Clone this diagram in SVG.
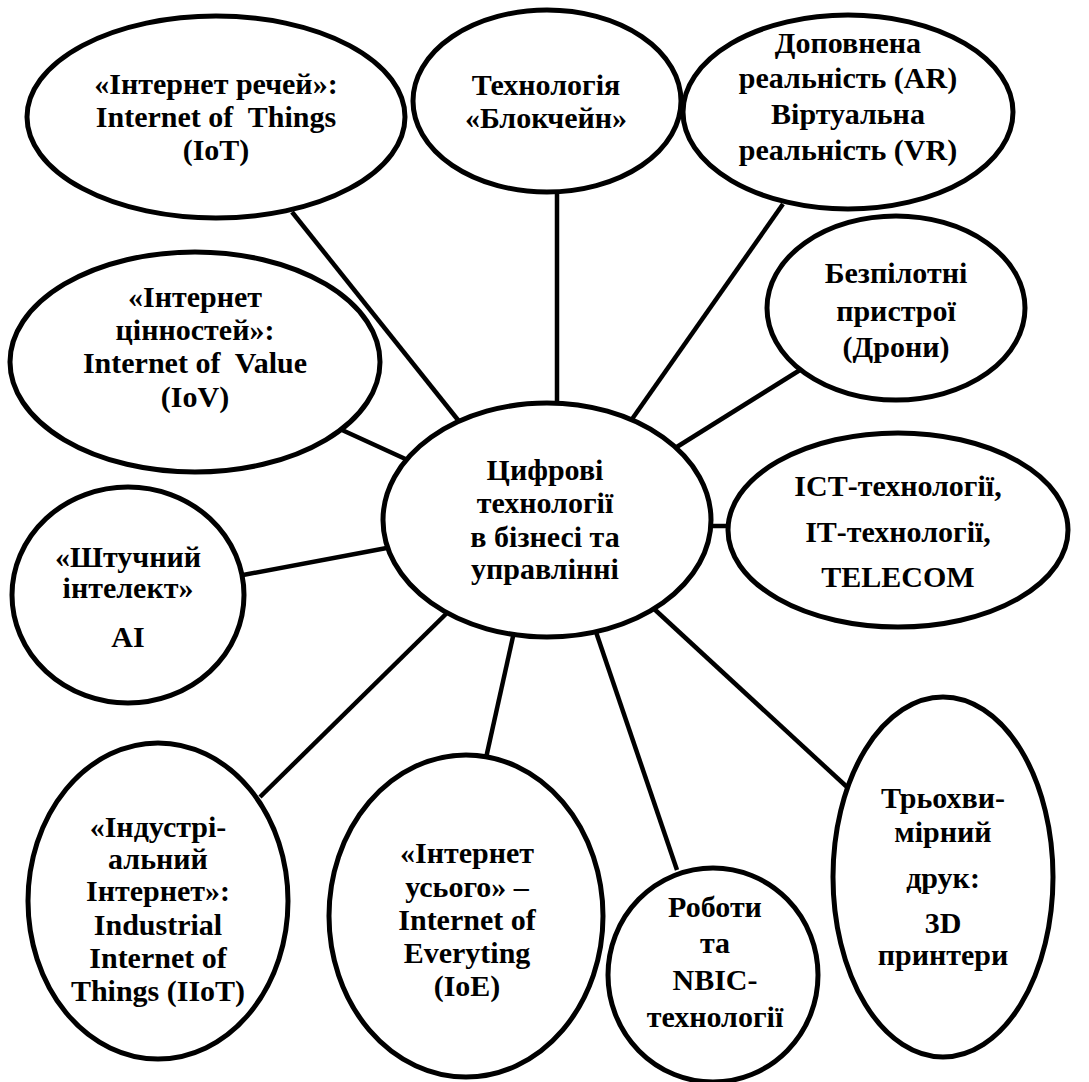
<svg xmlns="http://www.w3.org/2000/svg" width="1089" height="1082" viewBox="0 0 1089 1082">
<style>
.n ellipse{fill:#fff;stroke:#000;stroke-width:5}
.c line{stroke:#000;stroke-width:4.5}
text{font-family:'Liberation Serif','Times New Roman',serif;font-weight:700;font-size:30px;text-anchor:middle;fill:#000}
</style>
<rect width="1089" height="1082" fill="#fff"/>
<g id="connectors" class="c">
<line x1="292" y1="212" x2="462" y2="425"/>
<line x1="557" y1="192" x2="557" y2="410"/>
<line x1="783" y1="204" x2="630" y2="422"/>
<line x1="800" y1="370" x2="672" y2="450"/>
<line x1="705" y1="526" x2="732" y2="526"/>
<line x1="342" y1="430" x2="412" y2="462"/>
<line x1="243" y1="575" x2="392" y2="547"/>
<line x1="449" y1="611" x2="260" y2="797"/>
<line x1="514" y1="632" x2="486" y2="758"/>
<line x1="596" y1="632" x2="677" y2="870"/>
<line x1="652" y1="607" x2="847" y2="787"/>
</g>
<g id="n-iot" class="n"><ellipse cx="216" cy="117" rx="189" ry="101"/>
<text x="216" y="94">«Інтернет речей»:</text><text x="216" y="127" xml:space="preserve">Internet of  Things</text><text x="216" y="160">(IoT)</text></g>
<g id="n-blockchain" class="n"><ellipse cx="547" cy="101" rx="134" ry="91"/>
<text x="546" y="95">Технологія</text><text x="546" y="128">«Блокчейн»</text></g>
<g id="n-arvr" class="n"><ellipse cx="848" cy="112" rx="165" ry="97"/>
<text x="848" y="53">Доповнена</text><text x="848" y="88">реальність (AR)</text><text x="848" y="124">Віртуальна</text><text x="848" y="160">реальність (VR)</text></g>
<g id="n-drones" class="n"><ellipse cx="896" cy="308" rx="129" ry="92"/>
<text x="896" y="283">Безпілотні</text><text x="896" y="321">пристрої</text><text x="896" y="357">(Дрони)</text></g>
<g id="n-ict" class="n"><ellipse cx="898" cy="530" rx="170" ry="97"/>
<text x="898" y="496">ІСТ-технології,</text><text x="898" y="542">ІТ-технології,</text><text x="898" y="587">TELECOM</text></g>
<g id="n-center" class="n"><ellipse cx="547" cy="520" rx="164" ry="117"/>
<text x="545" y="480">Цифрові</text><text x="545" y="513">технології</text><text x="545" y="547">в бізнесі та</text><text x="545" y="579">управлінні</text></g>
<g id="n-iov" class="n"><ellipse cx="195" cy="362" rx="185" ry="110"/>
<text x="195" y="307">«Інтернет</text><text x="195" y="340">цінностей»:</text><text x="195" y="373" xml:space="preserve">Internet of  Value</text><text x="195" y="407">(IoV)</text></g>
<g id="n-ai" class="n"><ellipse cx="128" cy="595" rx="116" ry="108"/>
<text x="128" y="567">«Штучний</text><text x="128" y="598">інтелект»</text><text x="128" y="647">AI</text></g>
<g id="n-iiot" class="n"><ellipse cx="158" cy="901" rx="130" ry="158"/>
<text x="158" y="837">«Індустрі-</text><text x="158" y="869">альний</text><text x="158" y="901">Інтернет»:</text><text x="158" y="935">Industrial</text><text x="158" y="968">Internet of</text><text x="158" y="1001">Things (IIoT)</text></g>
<g id="n-ioe" class="n"><ellipse cx="466" cy="916" rx="137" ry="161"/>
<text x="467" y="863">«Інтернет</text><text x="467" y="897">усього» –</text><text x="467" y="930">Internet of</text><text x="467" y="963">Everyting</text><text x="467" y="996">(IoE)</text></g>
<g id="n-robots" class="n"><ellipse cx="713" cy="975" rx="105" ry="107"/>
<text x="715" y="917">Роботи</text><text x="715" y="953">та</text><text x="715" y="990">NBIC-</text><text x="715" y="1027">технології</text></g>
<g id="n-3d" class="n"><ellipse cx="943" cy="877" rx="110" ry="180"/>
<text x="943" y="808">Трьохви-</text><text x="943" y="842">мірний</text><text x="943" y="888">друк:</text><text x="943" y="933">3D</text><text x="943" y="965">принтери</text></g>
</svg>
